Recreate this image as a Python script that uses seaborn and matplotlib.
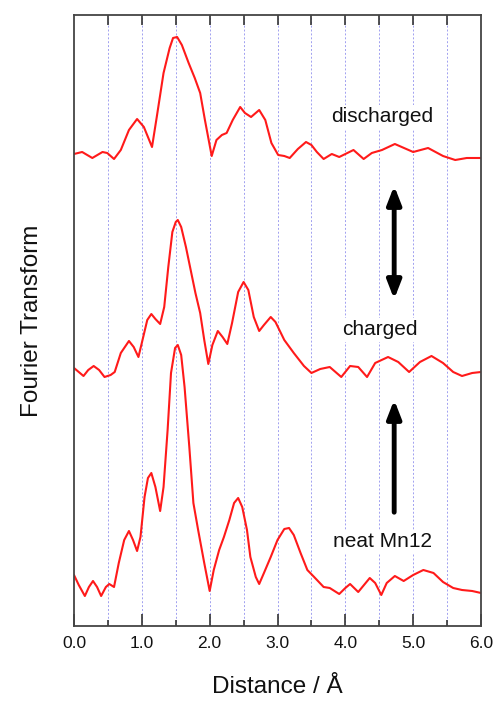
import numpy as np
import pandas as pd
import matplotlib
matplotlib.use("Agg")
import matplotlib.pyplot as plt
import seaborn as sns

# FT magnitude (arbitrary units, already stacked with offsets)
dis_r = [0.00, 0.12, 0.27, 0.42, 0.49, 0.59, 0.69, 0.81, 0.93, 1.03, 1.15, 1.22, 1.32, 1.41, 1.46,
         1.52, 1.59, 1.69, 1.78, 1.86, 1.93, 2.03, 2.10, 2.18, 2.25, 2.34, 2.45, 2.52, 2.61, 2.73,
         2.82, 2.91, 3.01, 3.10, 3.18, 3.30, 3.42, 3.50, 3.58, 3.68, 3.80, 3.91, 4.12, 4.27, 4.39,
         4.54, 4.73, 5.00, 5.22, 5.44, 5.62, 5.79, 6.00]
dis_ft = [4.72, 4.74, 4.68, 4.74, 4.73, 4.67, 4.76, 4.96, 5.07, 4.99, 4.79, 5.09, 5.53, 5.78, 5.88,
          5.89, 5.81, 5.63, 5.48, 5.33, 5.06, 4.70, 4.86, 4.91, 4.93, 5.06, 5.19, 5.13, 5.09, 5.16,
          5.06, 4.83, 4.71, 4.70, 4.68, 4.77, 4.84, 4.81, 4.74, 4.67, 4.72, 4.69, 4.76, 4.67, 4.73,
          4.76, 4.82, 4.74, 4.78, 4.70, 4.66, 4.68, 4.68]

chg_r = [0.00, 0.07, 0.14, 0.21, 0.29, 0.37, 0.45, 0.54, 0.60, 0.69, 0.81, 0.88, 0.95, 1.01, 1.08,
         1.14, 1.20, 1.27, 1.33, 1.39, 1.45, 1.50, 1.53, 1.58, 1.65, 1.72, 1.79, 1.86, 1.92, 1.98,
         2.04, 2.12, 2.19, 2.26, 2.33, 2.42, 2.50, 2.57, 2.65, 2.73, 2.80, 2.90, 2.97, 3.10, 3.24,
         3.39, 3.50, 3.63, 3.77, 3.94, 4.07, 4.19, 4.32, 4.44, 4.63, 4.78, 4.94, 5.10, 5.27, 5.44,
         5.59, 5.72, 5.87, 6.00]
chg_ft = [2.58, 2.54, 2.50, 2.56, 2.60, 2.56, 2.49, 2.51, 2.54, 2.73, 2.85, 2.79, 2.69, 2.86, 3.06,
          3.12, 3.07, 3.02, 3.19, 3.59, 3.94, 4.04, 4.06, 3.99, 3.79, 3.56, 3.33, 3.13, 2.86, 2.62,
          2.81, 2.95, 2.89, 2.82, 3.03, 3.34, 3.44, 3.36, 3.09, 2.95, 3.01, 3.09, 3.04, 2.86, 2.73,
          2.60, 2.53, 2.57, 2.59, 2.49, 2.60, 2.59, 2.49, 2.63, 2.69, 2.64, 2.54, 2.64, 2.70, 2.63,
          2.54, 2.50, 2.53, 2.54]

neat_r = [0.00, 0.07, 0.16, 0.22, 0.28, 0.34, 0.40, 0.47, 0.52, 0.59, 0.66, 0.74, 0.81, 0.87, 0.93,
          0.98, 1.04, 1.09, 1.14, 1.20, 1.27, 1.32, 1.38, 1.43, 1.49, 1.53, 1.58, 1.63, 1.70, 1.76,
          1.83, 1.92, 2.00, 2.06, 2.14, 2.21, 2.29, 2.36, 2.42, 2.48, 2.55, 2.60, 2.68, 2.73, 2.80,
          2.90, 3.00, 3.10, 3.17, 3.24, 3.34, 3.44, 3.54, 3.68, 3.77, 3.91, 4.00, 4.07, 4.19, 4.36,
          4.44, 4.53, 4.61, 4.73, 4.86, 5.00, 5.15, 5.30, 5.44, 5.59, 5.72, 5.87, 6.00]
neat_ft = [0.51, 0.41, 0.30, 0.39, 0.45, 0.39, 0.30, 0.39, 0.42, 0.39, 0.63, 0.86, 0.95, 0.86, 0.75,
           0.89, 1.29, 1.48, 1.53, 1.39, 1.15, 1.39, 1.96, 2.53, 2.78, 2.81, 2.71, 2.39, 1.79, 1.23,
           0.96, 0.63, 0.35, 0.56, 0.76, 0.89, 1.06, 1.23, 1.28, 1.19, 0.96, 0.69, 0.49, 0.42, 0.53,
           0.69, 0.86, 0.97, 0.98, 0.91, 0.73, 0.56, 0.49, 0.39, 0.38, 0.32, 0.38, 0.42, 0.34, 0.48,
           0.43, 0.31, 0.43, 0.50, 0.45, 0.51, 0.56, 0.53, 0.44, 0.38, 0.36, 0.35, 0.33]

labels = ["discharged", "charged", "neat Mn12"]

sns.set_theme(style="white")
plt.rcParams['font.family'] = ['Liberation Sans', 'DejaVu Sans']
plt.rcParams['text.color'] = '#111111'
plt.rcParams['axes.labelcolor'] = '#111111'
plt.rcParams['xtick.labelcolor'] = '#111111'

fig = plt.figure(figsize=(4.94, 7.04), dpi=100)
ax = fig.add_axes([0.1498, 0.1108, 0.8239, 0.8679])

# dotted guide lines every 0.5 A
for g in np.arange(0.5, 6.0, 0.5):
    ax.axvline(g, color="#a0a0f0", lw=0.7, ls=(0, (2, 2)), zorder=0)

frames = [pd.DataFrame({"r": dis_r, "ft": dis_ft}),
          pd.DataFrame({"r": chg_r, "ft": chg_ft}),
          pd.DataFrame({"r": neat_r, "ft": neat_ft})]
for df in frames:
    sns.lineplot(data=df, x="r", y="ft", ax=ax, color="#ff1a1a", lw=1.5, sort=False)

# labels and arrows
box = dict(facecolor="white", edgecolor="none", pad=1.5)
ax.text(4.55, 5.09, labels[0], ha="center", va="center", fontsize=15, bbox=box)
ax.text(4.51, 2.96, labels[1], ha="center", va="center", fontsize=15, bbox=box)
ax.text(4.55, 0.84, labels[2], ha="center", va="center", fontsize=15, bbox=box)
ax.annotate("", xy=(4.72, 4.43), xytext=(4.72, 3.24),
            arrowprops=dict(arrowstyle="<|-|>,head_length=0.9,head_width=0.35", lw=3.5, color="black"))
ax.annotate("", xy=(4.72, 2.29), xytext=(4.72, 1.11),
            arrowprops=dict(arrowstyle="-|>,head_length=0.9,head_width=0.35", lw=3.5, color="black"))

ax.set_xlim(0, 6)
ax.set_ylim(0, 6.11)
ax.set_xticks(np.arange(0, 6.01, 1.0))
ax.set_xticklabels([f"{v:.1f}" for v in np.arange(0, 6.01, 1.0)], fontsize=12.5)
ax.set_xticks(np.arange(0.5, 6.0, 1.0), minor=True)
ax.set_yticks([])
ax.tick_params(axis="x", which="major", direction="in", length=9, width=1.2, color="#333333",
               bottom=True, top=False, pad=7)
ax.tick_params(axis="x", which="minor", direction="in", length=4.5, width=1.2, color="#333333",
               bottom=True, top=False)

# top ticks every 0.5
sec = ax.secondary_xaxis("top")
sec.set_xticks(np.arange(0.5, 6.0, 0.5))
sec.set_xticklabels([])
sec.tick_params(direction="in", length=7, width=1.2, color="#333333")
sec.spines["top"].set_visible(False)

for s in ax.spines.values():
    s.set_color("#444444")
    s.set_linewidth(1.3)

ax.set_xlabel("Distance / Å", fontsize=17.5, labelpad=18)
ax.set_ylabel("Fourier Transform", fontsize=17.5, labelpad=22)

fig.savefig("out.png", dpi=100)
